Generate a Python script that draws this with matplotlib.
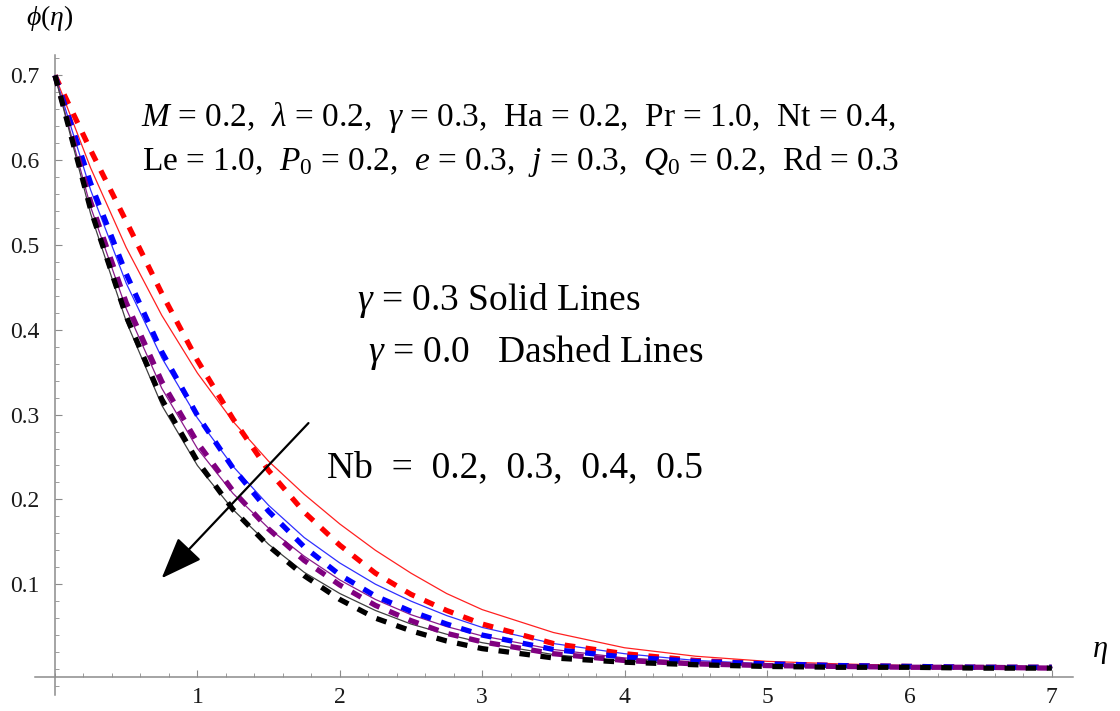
import matplotlib
matplotlib.use('Agg')
import matplotlib.pyplot as plt
from matplotlib.ticker import MultipleLocator, FixedLocator

plt.rcParams['font.family'] = ['Liberation Serif', 'DejaVu Serif']
plt.rcParams['mathtext.fontset'] = 'custom'
plt.rcParams['mathtext.rm'] = 'Liberation Serif'
plt.rcParams['mathtext.it'] = 'Liberation Serif:italic'

# eta grid
eta = [0, 0.25, 0.5, 0.75, 1.0, 1.25, 1.5, 1.75, 2.0, 2.25, 2.5, 2.75, 3.0,
       3.5, 4.0, 4.5, 5.0, 5.5, 6.0, 6.5, 7.0]

# gamma = 0.3 (solid), Nb = 0.2, 0.3, 0.4, 0.5
red_solid = [0.700, 0.591, 0.497, 0.417, 0.349, 0.292, 0.245, 0.206, 0.171, 0.140, 0.113,
             0.089, 0.070, 0.043, 0.025, 0.015, 0.009, 0.006, 0.004, 0.003, 0.002]
blue_solid = [0.700, 0.565, 0.455, 0.367, 0.296, 0.239, 0.193, 0.155, 0.125, 0.100, 0.080,
              0.063, 0.049, 0.030, 0.018, 0.010, 0.006, 0.004, 0.003, 0.002, 0.002]
purple_solid = [0.700, 0.545, 0.425, 0.331, 0.260, 0.207, 0.166, 0.133, 0.105, 0.082, 0.064,
                0.050, 0.039, 0.023, 0.013, 0.008, 0.005, 0.004, 0.003, 0.002, 0.002]
black_solid = [0.700, 0.537, 0.410, 0.311, 0.240, 0.188, 0.147, 0.114, 0.089, 0.069, 0.053,
               0.041, 0.031, 0.017, 0.009, 0.006, 0.004, 0.003, 0.002, 0.002, 0.001]

# gamma = 0.0 (dashed)
red_dashed = [0.700, 0.612, 0.528, 0.443, 0.364, 0.295, 0.234, 0.185, 0.146, 0.113, 0.088,
              0.069, 0.053, 0.030, 0.018, 0.010, 0.006, 0.004, 0.003, 0.002, 0.002]
blue_dashed = [0.700, 0.573, 0.466, 0.374, 0.299, 0.237, 0.186, 0.144, 0.111, 0.086, 0.068,
               0.053, 0.040, 0.023, 0.014, 0.009, 0.006, 0.004, 0.003, 0.002, 0.002]
purple_dashed = [0.700, 0.551, 0.432, 0.339, 0.267, 0.210, 0.165, 0.128, 0.099, 0.075, 0.057,
                 0.042, 0.032, 0.018, 0.010, 0.006, 0.004, 0.003, 0.002, 0.002, 0.001]
black_dashed = [0.700, 0.542, 0.416, 0.318, 0.245, 0.188, 0.145, 0.110, 0.082, 0.060, 0.045,
                0.033, 0.024, 0.013, 0.008, 0.005, 0.003, 0.002, 0.002, 0.001, 0.001]

solid_series = [red_solid, blue_solid, purple_solid, black_solid]
dashed_series = [red_dashed, blue_dashed, purple_dashed, black_dashed]
solid_colors = ['#ff2020', '#3030ff', '#8a1a8a', '#404040']
dashed_colors = ['#ff0000', '#0000ff', '#800080', '#000000']

x_major = [1, 2, 3, 4, 5, 6, 7]
y_major = [0.1, 0.2, 0.3, 0.4, 0.5, 0.6, 0.7]

fig = plt.figure(figsize=(11.2, 7.11), dpi=100)
ax = fig.add_axes([35 / 1120, 1 - 695 / 711, 1038 / 1120, 640 / 711])
ax.set_xlim(-0.1404, 7.149)
ax.set_ylim(-0.0307, 0.7241)

for ys, c in zip(solid_series, solid_colors):
    ax.plot(eta, ys, color=c, lw=0.9, zorder=2)
for ys, c in zip(dashed_series, dashed_colors):
    ax.plot(eta, ys, color=c, lw=3.8, linestyle=(0, (2, 2)),
            dash_capstyle='butt', zorder=3)

# Mathematica style axes crossing near the origin
axis_col = '#8c8c8c'
for s in ['top', 'right']:
    ax.spines[s].set_visible(False)
ax.spines['left'].set_position(('data', 0))
ax.spines['bottom'].set_position(('data', -0.0094))
for s in ['left', 'bottom']:
    ax.spines[s].set_color(axis_col)
    ax.spines[s].set_linewidth(1.1)

ax.xaxis.set_major_locator(FixedLocator(x_major))
ax.xaxis.set_minor_locator(MultipleLocator(0.2))
ax.yaxis.set_major_locator(FixedLocator(y_major))
ax.yaxis.set_minor_locator(MultipleLocator(0.02))
ax.set_xticklabels([str(v) for v in x_major])
ax.set_yticklabels([f'{v:.1f}' for v in y_major])
ax.tick_params(which='major', direction='in', length=5, width=0.8, color=axis_col,
               labelsize=17, labelcolor='#1a1a1a')
ax.tick_params(which='minor', direction='in', length=2.8, width=0.6, color=axis_col)
ax.tick_params(axis='x', pad=7)
ax.tick_params(axis='y', pad=11)

# axis labels
fig.text(50 / 1120, 1 - 18 / 711, r'$\phi(\eta)$', fontsize=20, ha='center', va='center')
fig.text(1100 / 1120, 1 - 651 / 711, r'$\eta$', fontsize=22, ha='center', va='center')

# parameters
ax.text(3.25, 0.650, r'$M$ = 0.2,  $\lambda$ = 0.2,  $\gamma$ = 0.3,  Ha = 0.2,  Pr = 1.0,  Nt = 0.4,',
        fontsize=24, ha='center', va='center')
ax.text(3.27, 0.598, r'Le = 1.0,  $P_0$ = 0.2,  $e$ = 0.3,  $j$ = 0.3,  $Q_0$ = 0.2,  Rd = 0.3',
        fontsize=24, ha='center', va='center')

ax.text(2.12, 0.435, r'$\gamma$ = 0.3 Solid Lines', fontsize=27, ha='left', va='center')
ax.text(2.20, 0.373, r'$\gamma$ = 0.0   Dashed Lines', fontsize=27, ha='left', va='center')
ax.text(1.91, 0.237, 'Nb  =  0.2,  0.3,  0.4,  0.5', fontsize=27, ha='left', va='center')

ax.annotate('', xy=(0.749, 0.107), xytext=(1.78, 0.290),
            arrowprops=dict(arrowstyle='-|>,head_length=1.3,head_width=0.5',
                            color='black', lw=1.6, mutation_scale=20,
                            shrinkA=0, shrinkB=0))

fig.savefig('out.png', dpi=100)
